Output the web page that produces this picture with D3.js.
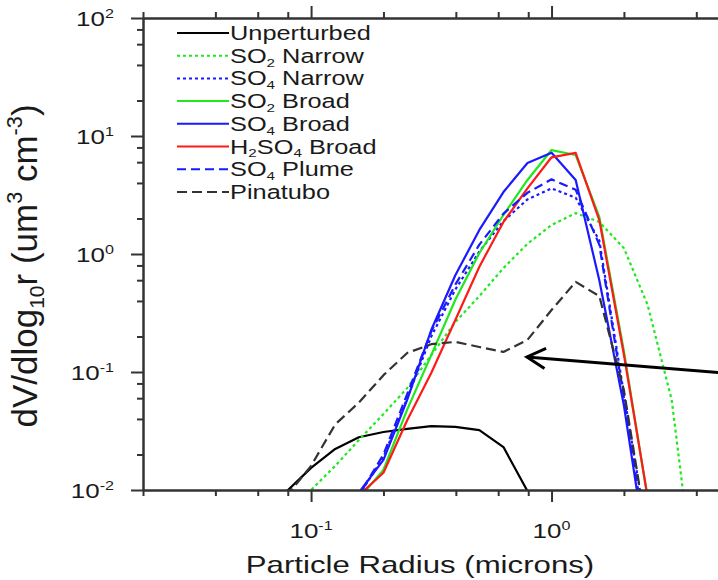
<!DOCTYPE html>
<html>
<head>
<meta charset="utf-8">
<script src="https://cdn.jsdelivr.net/npm/d3@7"></script>
<style>
  body { margin: 0; background: white; }
  text { font-family: 'Liberation Sans', Arial, Helvetica, sans-serif; fill: #1a1a1a; }
</style>
</head>
<body>
<div id="container"></div>
<script>
let w = 718;
let h = 580;

// bin radii in microns
let radius = [0.063, 0.0794, 0.1, 0.126, 0.158, 0.2, 0.251, 0.316, 0.398, 0.501, 0.631, 0.794, 1.0, 1.26, 1.58, 2.0, 2.51, 3.16, 3.98];

// dV/dlog10r for each run (um3 cm-3), null = not drawn
let unperturbed = [0.004, 0.0098, 0.0154, 0.0223, 0.028, 0.031, 0.033, 0.0348, 0.0343, 0.0322, 0.0231, 0.0098, 0.002, null, null, null, null, null, null];
let so2Narrow   = [null, 0.006, 0.0100, 0.016, 0.0265, 0.044, 0.073, 0.139, 0.265, 0.44, 0.76, 1.22, 1.76, 2.22, 1.87, 1.12, 0.37, 0.058, 0.0013];
let so4Narrow   = [null, null, null, 0.004, 0.009, 0.019, 0.06, 0.2, 0.5, 1.05, 1.9, 2.9, 3.6, 3.0, 1.3, 0.065, 0.004, null, null];
let so2Broad    = [null, null, null, 0.003, 0.0085, 0.0148, 0.048, 0.139, 0.41, 1.02, 2.14, 4.24, 7.6, 6.9, 2.06, 0.15, 0.0085, null, null];
let so4Broad    = [null, null, null, 0.004, 0.0095, 0.018, 0.058, 0.227, 0.66, 1.6, 3.35, 5.9, 7.2, 4.24, 0.6, 0.052, 0.0025, null, null];
let h2so4Broad  = [null, null, null, 0.003, 0.009, 0.014, 0.039, 0.098, 0.276, 0.78, 1.87, 3.6, 6.6, 7.2, 1.94, 0.14, 0.0087, null, null];
let so4Plume    = [null, null, null, 0.004, 0.009, 0.02, 0.065, 0.22, 0.55, 1.2, 2.2, 3.3, 4.3, 3.5, 1.2, 0.06, 0.003, null, null];
let pinatubo    = [0.003, 0.009, 0.016, 0.036, 0.055, 0.094, 0.145, 0.172, 0.18, 0.163, 0.148, 0.187, 0.335, 0.58, 0.44, 0.07, 0.004, null, null];

let seriesNames = ['Unperturbed', 'SO_{2} Narrow', 'SO_{4} Narrow', 'SO_{2} Broad', 'SO_{4} Broad', 'H_{2}SO_{4} Broad', 'SO_{4} Plume', 'Pinatubo'];
let seriesValues = [unperturbed, so2Narrow, so4Narrow, so2Broad, so4Broad, h2so4Broad, so4Plume, pinatubo];
let seriesColors = ['#000000', '#1fe81f', '#1a1aff', '#1fe81f', '#1a1aff', '#ff1a1a', '#1a1aff', '#333333'];
let seriesDash = ['none', '3,3', '3,3', 'none', 'none', 'none', '9,5', '10,5'];

let xMajor = [0.1, 1];
let xMinor = [0.02, 0.04, 0.06, 0.08, 0.2, 0.4, 0.6, 0.8, 2, 4, 6, 8];
let xTickLabels = ['10^{-1}', '10^{0}'];
let yMajor = [0.01, 0.1, 1, 10, 100];
let yMinor = [0.02, 0.04, 0.06, 0.08, 0.2, 0.4, 0.6, 0.8, 2, 4, 6, 8, 20, 40, 60, 80];
let yTickLabels = ['10^{-2}', '10^{-1}', '10^{0}', '10^{1}', '10^{2}'];

// annotation arrow (data coords)
let arrowFrom = [4.95, 0.099];
let arrowTo = [0.79, 0.134];

let sx = 1.3; // text in the picture is stretched sideways

let viz = d3.select('#container')
  .append('svg')
    .attr('width', w)
    .attr('height', h)
    .style('background-color', 'white')
  ;

let plotLeft = 143, plotTop = 18, plotBottom = 490, plotRight = 792;
let xScale = d3.scaleLog().domain([0.02, 10]).range([plotLeft, plotRight]);
let yScale = d3.scaleLog().domain([0.01, 100]).range([plotBottom, plotTop]);

function richText(sel, str, fs){
  let parts = str.split(/(_\{[^}]*\}|\^\{[^}]*\})/).filter(function(p){ return p.length > 0; });
  let cur = 0;
  parts.forEach(function(p){
    let t = p, off = 0, size = fs;
    if(p[0] == '_'){ t = p.slice(2, -1); off = 0.2 * fs; size = fs * 0.6; }
    else if(p[0] == '^'){ t = p.slice(2, -1); off = -0.42 * fs; size = fs * 0.62; }
    sel.append('tspan').attr('dy', off - cur).style('font-size', size + 'px').text(t);
    cur = off;
  });
}

// lines
viz.append('clipPath').attr('id', 'plotclip')
  .append('rect').attr('x', plotLeft).attr('y', plotTop).attr('width', plotRight - plotLeft).attr('height', plotBottom - plotTop);

let lineMaker = d3.line()
  .defined(function(d){ return d[1] != null; })
  .x(function(d){ return xScale(d[0]); })
  .y(function(d){ return yScale(d[1]); });

let lineGroup = viz.append('g').attr('clip-path', 'url(#plotclip)');
seriesValues.forEach(function(vals, i){
  let pts = radius.map(function(r, j){ return [r, vals[j]]; });
  lineGroup.append('path')
    .attr('d', lineMaker(pts))
    .attr('fill', 'none')
    .attr('stroke', seriesColors[i])
    .attr('stroke-width', 2.2)
    .attr('stroke-dasharray', seriesDash[i])
    .attr('stroke-linejoin', 'round');
});

// axes
function styleAxis(g){
  g.select('.domain').attr('stroke', '#333').attr('stroke-width', 2);
  g.selectAll('.tick line').attr('stroke', '#333').attr('stroke-width', 2);
  g.selectAll('.tick text').remove();
}

let axes = [
  [d3.axisBottom(xScale), xMajor, xMinor, 'translate(0,' + plotBottom + ')'],
  [d3.axisTop(xScale), xMajor, xMinor, 'translate(0,' + plotTop + ')'],
  [d3.axisLeft(yScale), yMajor, yMinor, 'translate(' + plotLeft + ',0)']
];
axes.forEach(function(a){
  viz.append('g').attr('transform', a[3])
    .call(a[0].tickValues(a[2]).tickSize(6).tickSizeOuter(0))
    .call(styleAxis);
  viz.append('g').attr('transform', a[3])
    .call(a[0].tickValues(a[1]).tickSize(12).tickSizeOuter(0))
    .call(styleAxis);
});

// tick labels
xMajor.forEach(function(v, i){
  let t = viz.append('text')
    .attr('transform', 'translate(' + xScale(v) + ',538) scale(' + sx + ',1)')
    .attr('text-anchor', 'middle')
    .style('font-size', '20px');
  richText(t, xTickLabels[i], 20);
});
yMajor.forEach(function(v, i){
  let t = viz.append('text')
    .attr('transform', 'translate(114,' + (yScale(v) + 8) + ') scale(' + sx + ',1)')
    .attr('text-anchor', 'end')
    .style('font-size', '20px');
  richText(t, yTickLabels[i], 20);
});

// axis titles
let xTitle = viz.append('text')
  .attr('transform', 'translate(420,573) scale(' + sx + ',1)')
  .attr('text-anchor', 'middle')
  .style('font-size', '24px');
richText(xTitle, 'Particle Radius (microns)', 24);

let yTitle = viz.append('text')
  .attr('transform', 'translate(37,266) rotate(-90)')
  .attr('text-anchor', 'middle')
  .style('font-size', '35px');
richText(yTitle, 'dV/dlog_{10}r (um^{3} cm^{-3})', 35);

// legend
let legend = viz.append('g');
seriesNames.forEach(function(name, i){
  let y = 33 + i * 22.7;
  legend.append('line')
    .attr('x1', 177).attr('x2', 229).attr('y1', y).attr('y2', y)
    .attr('stroke', seriesColors[i])
    .attr('stroke-width', 2)
    .attr('stroke-dasharray', seriesDash[i]);
  let t = legend.append('text')
    .attr('transform', 'translate(230,' + (y + 7) + ') scale(' + sx + ',1)')
    .style('font-size', '19.5px');
  richText(t, name, 19.5);
});

// arrow
let ax0 = xScale(arrowFrom[0]), ay0 = yScale(arrowFrom[1]);
let ax1 = xScale(arrowTo[0]), ay1 = yScale(arrowTo[1]);
let ang = Math.atan2(ay0 - ay1, ax0 - ax1);
let headLen = 21, headAng = 0.5;
viz.append('line')
  .attr('x1', ax0).attr('y1', ay0).attr('x2', ax1).attr('y2', ay1)
  .attr('stroke', 'black').attr('stroke-width', 3);
viz.append('path')
  .attr('d', 'M' + (ax1 + headLen * Math.cos(ang - headAng)) + ',' + (ay1 + headLen * Math.sin(ang - headAng)) +
    'L' + ax1 + ',' + ay1 +
    'L' + (ax1 + headLen * Math.cos(ang + headAng)) + ',' + (ay1 + headLen * Math.sin(ang + headAng)))
  .attr('fill', 'none').attr('stroke', 'black').attr('stroke-width', 3);
</script>
</body>
</html>
